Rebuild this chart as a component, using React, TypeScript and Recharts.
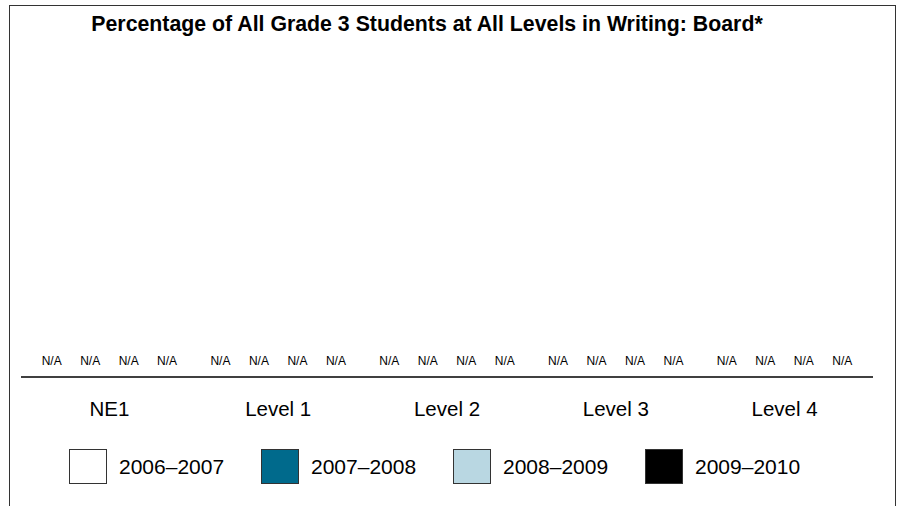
import React from "react";
import { BarChart, Bar, XAxis, YAxis } from "recharts";

const categories = ["NE1", "Level 1", "Level 2", "Level 3", "Level 4"];
const seriesNames = ["2006–2007", "2007–2008", "2008–2009", "2009–2010"];
const seriesColors = ["#ffffff", "#006a8c", "#b9d7e2", "#000000"];
const s2006: (number | null)[] = [null, null, null, null, null];
const s2007: (number | null)[] = [null, null, null, null, null];
const s2008: (number | null)[] = [null, null, null, null, null];
const s2009: (number | null)[] = [null, null, null, null, null];
const seriesValues = [s2006, s2007, s2008, s2009];
const naLabel = "N/A";
const title = "Percentage of All Grade 3 Students at All Levels in Writing: Board*";

const FONT = "'Liberation Sans', Arial, Helvetica, sans-serif";
const CATEGORY_GAP = 0.044;

const chartData = categories.map((c, i) => {
  const row: Record<string, any> = { name: c };
  seriesValues.forEach((s, k) => {
    row["s" + k] = s[i] == null ? 0 : s[i];
  });
  return row;
});

const CategoryTick = (props: any) => {
  const { x, y, payload } = props;
  const cx = Number(x);
  const cy = Number(y);
  const idx = payload && payload.index != null ? payload.index : categories.indexOf(payload.value);
  const half = payload && payload.offset ? Number(payload.offset) : 84.4;
  const band = half * 2;
  const gap = band * CATEGORY_GAP;
  const barW = (band - 2 * gap) / seriesNames.length;
  const left = cx - half + gap;
  return (
    <g>
      {seriesValues.map((s, k) => {
        const v = s[idx];
        return (
          <text
            key={k}
            x={left + barW * (k + 0.5)}
            y={cy - 12.5}
            textAnchor="middle"
            fontSize={12}
            fontFamily={FONT}
            fill="#000"
          >
            {v == null ? naLabel : String(v)}
          </text>
        );
      })}
      <text
        x={cx}
        y={cy + 39}
        textAnchor="middle"
        fontSize={20.5}
        fontFamily={FONT}
        fill="#000"
      >
        {payload.value}
      </text>
    </g>
  );
};

export default function App() {
  return (
    <div
      style={{
        position: "absolute",
        left: 0,
        top: 0,
        width: 899,
        height: 506,
        overflow: "hidden",
        background: "#fff",
        fontFamily: FONT,
      }}
    >
      <div
        style={{
          position: "absolute",
          left: 9,
          top: 5,
          width: 887,
          height: 520,
          border: "1px solid #333",
          boxSizing: "border-box",
        }}
      />
      <div
        style={{
          position: "absolute",
          left: 0,
          top: 14,
          width: 854,
          textAlign: "center",
          fontSize: 21.3,
          lineHeight: "21px",
          fontWeight: "bold",
          color: "#000",
        }}
      >
        {title}
      </div>
      <div style={{ position: "absolute", left: 0, top: 0 }}>
        <BarChart
          width={899}
          height={506}
          data={chartData}
          margin={{ top: 40, right: 26, bottom: 99, left: 21 }}
          barCategoryGap={`${CATEGORY_GAP * 100}%`}
          barGap={0}
        >
          <YAxis hide domain={[0, 100]} />
          <XAxis
            dataKey="name"
            stroke="#000"
            axisLine={{ stroke: "#000", strokeWidth: 1.3 }}
            tickLine={false}
            tickSize={0}
            tickMargin={0}
            height={30}
            padding={{ left: 4, right: 4 }}
            tick={<CategoryTick />}
            interval={0}
          />
          {seriesNames.map((n, k) => (
            <Bar
              key={n}
              dataKey={"s" + k}
              name={n}
              fill={seriesColors[k]}
              stroke="#333"
              isAnimationActive={false}
            />
          ))}
        </BarChart>
      </div>
      <div
        style={{
          position: "absolute",
          left: 69,
          top: 449,
          display: "flex",
          fontSize: 21,
          color: "#000",
        }}
      >
        {seriesNames.map((n, k) => (
          <div
            key={n}
            style={{ width: 192, display: "flex", alignItems: "center" }}
          >
            <div
              style={{
                width: 38,
                height: 35,
                boxSizing: "border-box",
                border: "1px solid #333",
                background: seriesColors[k],
                marginRight: 12,
              }}
            />
            <span>{n}</span>
          </div>
        ))}
      </div>
    </div>
  );
}
